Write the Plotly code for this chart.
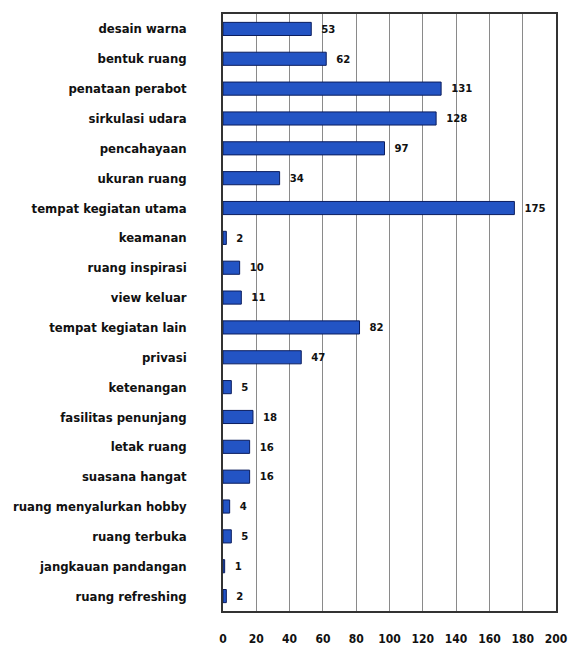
import plotly.graph_objects as go

categories = [
    "desain warna", "bentuk ruang", "penataan perabot", "sirkulasi udara",
    "pencahayaan", "ukuran ruang", "tempat kegiatan utama", "keamanan",
    "ruang inspirasi", "view keluar", "tempat kegiatan lain", "privasi",
    "ketenangan", "fasilitas penunjang", "letak ruang", "suasana hangat",
    "ruang menyalurkan hobby", "ruang terbuka", "jangkauan pandangan",
    "ruang refreshing",
]
values = [53, 62, 131, 128, 97, 34, 175, 2, 10, 11, 82, 47, 5, 18, 16, 16, 4, 5, 1, 2]
tick_vals = list(range(0, 201, 20))

FONT = "DejaVu Sans Condensed"

fig = go.Figure(go.Bar(
    x=values,
    y=categories,
    orientation="h",
    marker=dict(color="#2354c4", line=dict(color="#0b1d5e", width=1)),
    text=values,
    texttemplate="  %{x}",
    textposition="outside",
    cliponaxis=False,
    textfont=dict(family=FONT, size=12, color="#111111", weight="bold"),
))

fig.update_layout(
    width=568, height=647,
    margin=dict(l=223, r=12, t=14, b=36),
    paper_bgcolor="white", plot_bgcolor="white",
    bargap=0.56,
    showlegend=False,
    font=dict(family=FONT, size=12, color="#111111", weight="bold"),
)
fig.update_xaxes(
    range=[0, 200], tickvals=tick_vals,
    showgrid=True, gridcolor="#8a8a8a", gridwidth=1,
    showline=True, linecolor="#333333", linewidth=1.5, mirror=True,
    ticks="", ticklabelstandoff=16, zeroline=False,
    ticklabeloverflow="allow", automargin=False,
    tickfont=dict(family=FONT, size=12, color="#111111", weight="bold"),
)
fig.update_yaxes(
    autorange="reversed", automargin=False,
    showline=True, linecolor="#333333", linewidth=1.5, mirror=True,
    ticks="", ticklabelstandoff=32, showgrid=False,
    tickfont=dict(family=FONT, size=13, color="#111111", weight="bold"),
)

fig.write_html("out.html")
